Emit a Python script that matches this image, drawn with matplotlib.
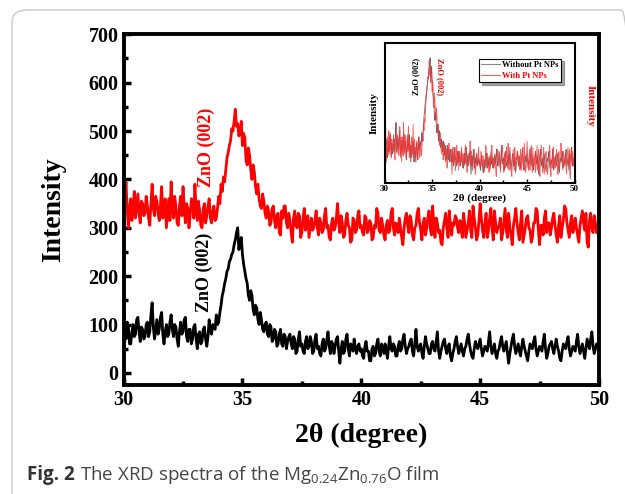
"""XRD spectra of the Mg0.24Zn0.76O film, with/without Pt NPs (inset overlay)."""
import numpy as np
import matplotlib
matplotlib.use("Agg")
import matplotlib.pyplot as plt
from matplotlib.lines import Line2D
from matplotlib.patches import FancyBboxPatch
from matplotlib.ticker import MultipleLocator

plt.rcParams["font.family"] = ["Liberation Serif", "DejaVu Serif"]
plt.rcParams["font.weight"] = "bold"
plt.rcParams["mathtext.fontset"] = "custom"
plt.rcParams["mathtext.rm"] = "Open Sans"

# with Pt NPs (red), values every 0.05 degree (one row per degree)
with_pt = [
    330, 360, 395, 340, 300, 335, 360, 315, 340, 375, 320, 345, 370, 330, 310, 355, 350, 325, 330, 365,
    345, 320, 305, 350, 390, 340, 325, 365, 355, 330, 315, 345, 385, 320, 335, 360, 300, 330, 360, 315,
    395, 340, 320, 365, 345, 310, 305, 345, 365, 325, 385, 340, 310, 350, 340, 300, 325, 360, 355, 320,
    390, 335, 315, 355, 335, 305, 300, 340, 350, 310, 325, 345, 360, 320, 310, 335, 345, 315, 320, 340,
    365, 350, 390, 375, 405, 395, 420, 445, 455, 470, 480, 505, 500, 520, 545, 510, 515, 490, 500, 520,
    470, 495, 485, 440, 430, 465, 450, 420, 400, 430, 415, 385, 370, 390, 360, 345, 340, 370, 355, 330,
    320, 345, 335, 305, 310, 340, 345, 315, 300, 325, 330, 290, 285, 335, 320, 345, 345, 310, 300, 330,
    315, 290, 270, 320, 335, 305, 300, 330, 325, 280, 290, 320, 340, 295, 305, 325, 280, 300, 320, 295,
    300, 315, 335, 300, 285, 320, 310, 290, 295, 325, 340, 300, 305, 280, 275, 310, 320, 295, 300, 320,
    350, 310, 290, 325, 310, 280, 285, 315, 330, 305, 300, 270, 275, 320, 315, 290, 295, 325, 335, 300,
    305, 290, 285, 325, 320, 290, 295, 315, 310, 275, 280, 305, 300, 340, 330, 295, 290, 320, 305, 285,
    275, 305, 315, 290, 295, 330, 340, 300, 285, 310, 305, 290, 320, 300, 280, 265, 300, 320, 330, 305,
    290, 325, 315, 285, 275, 300, 305, 330, 340, 310, 295, 275, 310, 320, 285, 300, 320, 335, 300, 285,
    345, 305, 280, 320, 310, 290, 295, 270, 265, 300, 315, 330, 300, 280, 335, 305, 285, 310, 305, 325,
    320, 300, 290, 315, 300, 280, 330, 310, 280, 295, 310, 335, 295, 280, 345, 320, 300, 275, 285, 315,
    350, 320, 295, 280, 310, 330, 280, 295, 320, 340, 300, 275, 335, 310, 290, 300, 305, 320, 275, 290,
    315, 340, 295, 280, 330, 300, 285, 265, 305, 320, 340, 310, 290, 275, 310, 335, 270, 285, 300, 320,
    325, 300, 295, 270, 280, 310, 310, 340, 335, 295, 265, 305, 305, 285, 320, 335, 290, 310, 310, 285,
    300, 320, 330, 305, 285, 270, 305, 325, 280, 300, 315, 345, 340, 310, 295, 280, 310, 325, 290, 300,
    320, 300, 285, 270, 305, 320, 335, 310, 295, 330, 270, 260, 315, 330, 300, 290, 325, 310, 290, 305,
    295,
]

# without Pt NPs (black)
without_pt = [
    140, 95, 70, 105, 95, 60, 60, 85, 100, 75, 80, 110, 115, 85, 65, 95, 90, 70, 75, 100,
    105, 75, 85, 120, 145, 95, 70, 90, 110, 80, 90, 115, 125, 80, 60, 85, 100, 75, 80, 105,
    120, 90, 75, 100, 95, 70, 55, 85, 105, 80, 85, 110, 115, 75, 65, 90, 90, 60, 70, 95,
    100, 70, 50, 80, 85, 60, 65, 90, 95, 70, 55, 75, 110, 85, 80, 100, 95, 90, 120, 100,
    105, 125, 140, 160, 170, 185, 195, 210, 215, 230, 235, 245, 250, 265, 275, 290, 300, 255, 270, 280,
    245, 225, 210, 195, 185, 160, 150, 170, 160, 130, 120, 140, 135, 110, 100, 125, 110, 90, 85, 100,
    105, 80, 75, 100, 95, 65, 70, 90, 85, 55, 60, 80, 90, 60, 55, 80, 75, 50, 65, 75,
    80, 60, 50, 75, 70, 40, 45, 70, 85, 55, 60, 45, 40, 65, 75, 50, 55, 75, 65, 40,
    45, 70, 80, 50, 55, 40, 35, 60, 70, 45, 50, 70, 85, 55, 40, 65, 60, 40, 55, 70,
    75, 45, 20, 50, 65, 40, 45, 70, 80, 50, 35, 60, 55, 45, 70, 50, 40, 55, 60, 45,
    50, 35, 30, 55, 65, 45, 45, 25, 25, 50, 55, 35, 40, 60, 70, 45, 35, 60, 50, 40,
    60, 45, 30, 55, 75, 50, 45, 60, 55, 35, 35, 55, 65, 45, 50, 70, 80, 55, 40, 50,
    55, 65, 70, 45, 35, 60, 90, 55, 45, 55, 60, 40, 30, 55, 75, 60, 50, 40, 40, 60,
    65, 50, 45, 65, 85, 45, 30, 45, 55, 65, 70, 50, 40, 55, 60, 35, 25, 40, 50, 65,
    75, 55, 40, 50, 60, 45, 35, 50, 55, 70, 80, 60, 45, 35, 30, 50, 65, 55, 50, 60,
    70, 50, 35, 45, 55, 50, 45, 65, 85, 55, 40, 50, 60, 40, 30, 45, 50, 65, 75, 55,
    45, 55, 65, 40, 20, 40, 55, 70, 80, 55, 40, 50, 60, 45, 35, 55, 70, 55, 45, 35,
    25, 45, 60, 55, 50, 65, 75, 50, 35, 45, 55, 50, 45, 65, 80, 50, 30, 40, 55, 60,
    65, 50, 40, 55, 70, 55, 45, 30, 25, 45, 60, 55, 50, 65, 75, 50, 35, 45, 55, 50,
    45, 65, 80, 55, 40, 50, 60, 45, 30, 50, 70, 60, 50, 70, 85, 55, 40, 50, 60, 55,
    50,
]

theta_red = np.linspace(30, 50, len(with_pt))
theta_black = np.linspace(30, 50, len(without_pt))

inset_offset = 250  # red curve shifted down to overlay in the inset
peak_label = "ZnO (002)"

fig = plt.figure(figsize=(6.25, 4.94), dpi=100)

# rounded caption-box border, runs off the right and bottom edges
border = FancyBboxPatch((12 / 625, -0.5), 1.0, 1.5 - 10 / 494,
                        boxstyle="round,pad=0,rounding_size=0.025",
                        transform=fig.transFigure, fc="none", ec="#c8c8c8", lw=1.0)
fig.patches.append(border)

ax = fig.add_axes([123.6 / 625, 1 - 385 / 494, 475.4 / 625, 350.7 / 494])
ax.plot(theta_red, with_pt, color="#ff0000", lw=2.0)
ax.plot(theta_black, without_pt, color="black", lw=2.0)
ax.set_xlim(30, 50)
ax.set_ylim(-25, 700)
ax.xaxis.set_major_locator(MultipleLocator(5))
ax.xaxis.set_minor_locator(MultipleLocator(2.5))
ax.yaxis.set_major_locator(MultipleLocator(100))
ax.yaxis.set_minor_locator(MultipleLocator(50))
ax.tick_params(which="both", direction="in", width=2.5, labelsize=14.5)
ax.tick_params(which="major", length=5)
ax.tick_params(which="minor", length=3)
for s in ax.spines.values():
    s.set_linewidth(2.8)
ax.set_xlabel("2θ (degree)", fontsize=20, fontweight="bold", labelpad=9)
ax.set_ylabel("Intensity", fontsize=20, fontweight="bold", labelpad=16)
ax.text(33.5, 467, peak_label, color="#ff0000", rotation=90, fontsize=13,
        fontweight="bold", ha="center", va="center")
ax.text(33.4, 208, peak_label, color="black", rotation=90, fontsize=13,
        fontweight="bold", ha="center", va="center")

# inset overlay
ins = fig.add_axes([384.6 / 625, 1 - 182.7 / 494, 190 / 625, 139.4 / 494])
ins.plot(theta_black, without_pt, color="#555555", lw=0.6, alpha=0.9)
ins.plot(theta_red, np.array(with_pt) - inset_offset, color="#ff3030", lw=0.6, alpha=0.8)
ins.set_xlim(30, 50)
ins.set_ylim(0, 335)
ins.xaxis.set_major_locator(MultipleLocator(5))
ins.xaxis.set_minor_locator(MultipleLocator(2.5))
ins.set_yticks([])
ins.tick_params(which="both", direction="in", width=1, labelsize=6.5, pad=2)
ins.tick_params(which="major", length=3)
ins.tick_params(which="minor", length=2)
for s in ins.spines.values():
    s.set_linewidth(1.5)
ins.set_xlabel("2θ (degree)", fontsize=8, fontweight="bold", labelpad=0)
ins.set_ylabel("Intensity", fontsize=8, fontweight="bold", labelpad=4)
ins.text(1.08, 0.55, "Intensity", color="#ff0000", rotation=-90, fontsize=8,
         fontweight="bold", ha="center", va="center", transform=ins.transAxes)
ins.text(33.3, 255, peak_label, color="black", rotation=90, fontsize=6,
         fontweight="bold", ha="center", va="center")
ins.text(35.8, 255, peak_label, color="#ff0000", rotation=-90, fontsize=6,
         fontweight="bold", ha="center", va="center")
handles = [Line2D([], [], color="#888888", lw=0.8), Line2D([], [], color="#ff6060", lw=0.8)]
leg = ins.legend(handles, ["Without Pt NPs", "With Pt NPs"], loc="upper right",
                 bbox_to_anchor=(0.95, 0.92), fontsize=6, frameon=True, shadow=True,
                 fancybox=False, handlelength=2.2, borderpad=0.3, labelspacing=0.3,
                 edgecolor="black", handletextpad=0.3)
leg.get_frame().set_linewidth(0.8)
for t, c in zip(leg.get_texts(), ["black", "#ff0000"]):
    t.set_color(c)

# caption: bold "Fig. 2" then the regular text right after it
cap_y = 1 - 475 / 494
fig_label = fig.text(27 / 625, cap_y, "Fig. 2", family="Open Sans", fontweight="bold",
                     fontsize=13.5, color="#333333", ha="left", va="center")
renderer = fig.canvas.get_renderer()
bb = fig_label.get_window_extent(renderer=renderer)
fig.text(bb.x1 / fig.bbox.width + 5 / 625, cap_y,
         r"The XRD spectra of the Mg$_{\mathregular{0.24}}$Zn$_{\mathregular{0.76}}$O film",
         family="Open Sans", fontweight="normal", fontsize=13.5, color="#444444",
         ha="left", va="center")

fig.savefig("out.png", dpi=100)
